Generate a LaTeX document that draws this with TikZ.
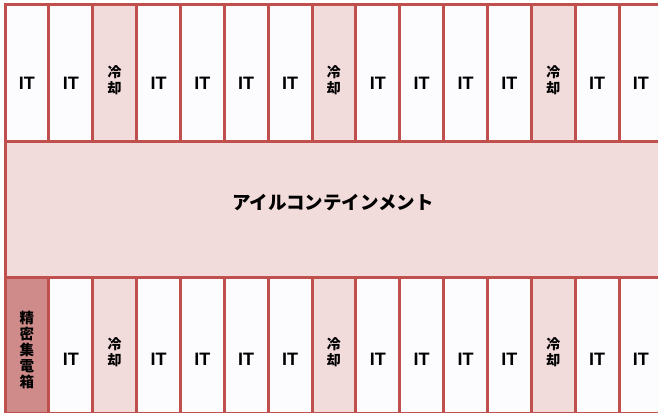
\documentclass[tikz,border=0pt]{standalone}
\usepackage{fontspec}
\setmainfont{Liberation Sans}
\newfontfamily\cjk{Noto Sans CJK JP}
\definecolor{rackred}{HTML}{C0504D}
\definecolor{coolfill}{HTML}{F2DCDB}
\definecolor{boxfill}{HTML}{CF8A8A}
\definecolor{itfill}{HTML}{FCFCFE}
\begin{document}
\begin{tikzpicture}[x=1pt,y=-1pt,
  cell/.style={draw=rackred, line width=3pt, minimum width=43.86pt, minimum height=136pt, inner sep=0pt, outer sep=0pt},
  kit/.style={cell, fill=itfill},
  kcool/.style={cell, fill=coolfill},
  kpdu/.style={cell, fill=boxfill},
  band/.style={cell, fill=coolfill, minimum width=700pt},
  ittext/.style={font=\bfseries\fontsize{18}{18}\selectfont, inner sep=0pt},
  cooltext/.style={font=\cjk\bfseries\fontsize{14}{15.5}\selectfont, align=center, inner sep=0pt},
  pdutext/.style={font=\cjk\bfseries\fontsize{14.5}{16}\selectfont, align=center, inner sep=0pt},
  bandtext/.style={font=\cjk\bfseries\fontsize{18.5}{18}\selectfont, inner sep=0pt}]
\useasboundingbox (0,0) rectangle (658,412);
\begin{scope}
\clip (0,0) rectangle (658,412);
% top row
\foreach \i/\k in {1/it,2/it,3/cool,4/it,5/it,6/it,7/it,8/cool,9/it,10/it,11/it,12/it,13/cool,14/it,15/it}
  {\node[k\k] (t\i) at ({5+43.86*(\i-0.5)},73) {};}
% bottom row
\foreach \i/\k in {1/pdu,2/it,3/cool,4/it,5/it,6/it,7/it,8/cool,9/it,10/it,11/it,12/it,13/cool,14/it,15/it}
  {\node[k\k] (b\i) at ({5+43.86*(\i-0.5)},345) {};}
% aisle containment band
\node[band] (aisle) at (355,209) {};
\node[bandtext] (aislelabel) at (333,203) {アイルコンテインメント};
% labels
\foreach \i in {1,2,4,5,6,7,9,10,11,12,14,15}
  {\path (t\i.center) ++(0,10) node[ittext] (tl\i) {IT};}
\foreach \i in {3,8,13}
  {\path (t\i.center) ++(0,7) node[cooltext] (tl\i) {冷\\却};}
\foreach \i in {2,4,5,6,7,9,10,11,12,14,15}
  {\path (b\i.center) ++(0,14) node[ittext] (bl\i) {IT};}
\foreach \i in {3,8,13}
  {\path (b\i.center) ++(0,7) node[cooltext] (bl\i) {冷\\却};}
\path (b1.center) ++(0,5) node[pdutext] (bl1) {精\\密\\集\\電\\箱};
\end{scope}
\end{tikzpicture}
\end{document}
